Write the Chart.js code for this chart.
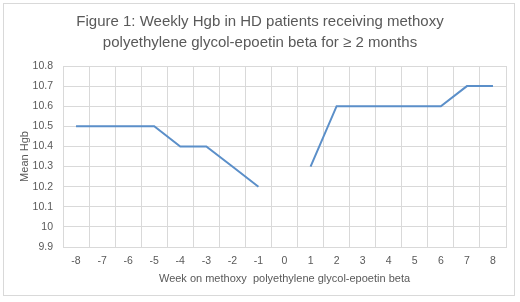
<!DOCTYPE html>
<html>
<head>
<meta charset="utf-8">
<script src="https://cdn.jsdelivr.net/npm/chart.js@4/dist/chart.umd.min.js"></script>
<style>
  html, body { margin: 0; padding: 0; background: #fff; }
  #wrap { position: relative; width: 520px; height: 302px; }
  #frame { position: absolute; left: 3px; top: 3px; width: 512px; height: 293px; border: 1px solid #d9d9d9; box-sizing: border-box; }
</style>
</head>
<body>
<div id="wrap">
  <div id="frame"></div>
  <canvas id="myChart" width="520" height="302"></canvas>
</div>
<script>
// week numbers on the x axis
const weeks = ['-8', '-7', '-6', '-5', '-4', '-3', '-2', '-1', '0', '1', '2', '3', '4', '5', '6', '7', '8']
// mean hgb per week, week 0 has no value
const meanHgb = [10.5, 10.5, 10.5, 10.5, 10.4, 10.4, 10.3, 10.2, null, 10.3, 10.6, 10.6, 10.6, 10.6, 10.6, 10.7, 10.7]
const yMin = 9.9
const yMax = 10.8
const yStep = 0.1

const titleLines = [
  'Figure 1: Weekly Hgb in HD patients receiving methoxy',
  'polyethylene glycol-epoetin beta for \u2265 2 months'
]

const textColor = '#595959'
const gridColor = '#d9d9d9'
const fontName = "'Liberation Sans', Arial, sans-serif"

// title drawn by hand so the plot area can be placed exactly
const titlePlugin = {
  id: 'excelTitle',
  afterDraw(chart) {
    const ctx = chart.ctx
    ctx.save()
    ctx.fillStyle = textColor
    ctx.font = '15px ' + fontName
    ctx.textAlign = 'center'
    ctx.textBaseline = 'middle'
    ctx.fillText(titleLines[0], 260, 22)
    ctx.fillText(titleLines[1], 260, 43)
    ctx.restore()
  }
}

const data = {
  labels: weeks,
  datasets: [{
    label: 'Mean Hgb',
    data: meanHgb,
    borderColor: '#5b8fc9',
    backgroundColor: '#5b8fc9',
    borderWidth: 2,
    pointRadius: 0,
    spanGaps: false,
    tension: 0
  }]
}

const config = {
  type: 'line',
  data: data,
  plugins: [titlePlugin],
  options: {
    responsive: false,
    animation: false,
    layout: {
      padding: { top: 66, left: 0, right: 14, bottom: 0 }
    },
    plugins: {
      legend: { display: false },
      tooltip: { enabled: false }
    },
    scales: {
      x: {
        offset: true,
        grid: { offset: true, color: gridColor, drawTicks: false },
        border: { color: gridColor },
        ticks: { color: textColor, font: { family: fontName, size: 10.5 }, padding: 8, maxRotation: 0, autoSkip: false },
        title: {
          display: true,
          text: 'Week on methoxy  polyethylene glycol-epoetin beta',
          color: textColor,
          font: { family: fontName, size: 11 },
          padding: { top: 0, bottom: 16 }
        },
        afterFit(scale) { scale.height = 55 }
      },
      y: {
        min: yMin,
        max: yMax,
        grid: { color: gridColor, drawTicks: false },
        border: { display: false },
        ticks: {
          stepSize: yStep,
          color: textColor,
          font: { family: fontName, size: 10.5 },
          padding: 10,
          callback: (v) => String(parseFloat(v.toFixed(1)))
        },
        title: {
          display: true,
          text: 'Mean Hgb',
          color: textColor,
          font: { family: fontName, size: 11 },
          padding: { top: 18, bottom: 0 }
        },
        afterFit(scale) { scale.width = 63 }
      }
    }
  }
}

const myChart = new Chart(document.getElementById('myChart'), config)
</script>
</body>
</html>
